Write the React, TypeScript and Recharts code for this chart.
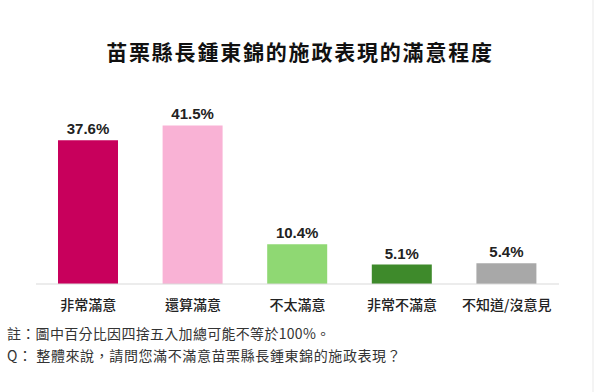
import { BarChart, Bar, XAxis, YAxis, Cell, LabelList } from 'recharts';

const categories = ['非常滿意', '還算滿意', '不太滿意', '非常不滿意', '不知道/沒意見'];
const values = [37.6, 41.5, 10.4, 5.1, 5.4];
const barColors = ['#C8005C', '#F9B2D5', '#8FD873', '#3E8A2B', '#A8A8A8'];

const data = categories.map((name, i) => ({ name, value: values[i] }));

const CJK = '"Noto Sans CJK TC", "Noto Sans", sans-serif';

export default function App() {
  return (
    <div style={{ position: 'absolute', left: 0, top: 0, width: 600, height: 392, background: '#fff', fontFamily: CJK }}>
      <div
        style={{
          position: 'absolute',
          top: 36,
          left: 0,
          width: 600,
          textAlign: 'center',
          fontSize: 21,
          lineHeight: '30px',
          fontWeight: 700,
          color: '#111',
          letterSpacing: 1.8,
        }}
      >
        苗栗縣長鍾東錦的施政表現的滿意程度
      </div>
      {/* faint edge on the right, as in the source image */}
      <div style={{ position: 'absolute', left: 592, top: 0, width: 2, height: 392, background: '#f4f4f4' }} />
      <BarChart
        width={600}
        height={392}
        data={data}
        margin={{ top: 93, right: 41, left: 36, bottom: 78 }}
      >
        <XAxis
          dataKey="name"
          tickLine={false}
          axisLine={{ stroke: '#d9d9d9' }}
          tick={{ fontSize: 14, fill: '#222', fontFamily: CJK, fontWeight: 500 }}
          tickMargin={10}
          interval={0}
          height={30}
        />
        <YAxis hide domain={[0, 50]} />
        <Bar dataKey="value" barSize={60} isAnimationActive={false}>
          {data.map((d, i) => (
            <Cell key={d.name} fill={barColors[i]} />
          ))}
          <LabelList
            dataKey="value"
            position="top"
            offset={6}
            formatter={(v: any) => `${Number(v).toFixed(1)}%`}
            style={{ fontSize: 15, fontWeight: 700, fill: '#222', fontFamily: '"Liberation Sans", Arial, sans-serif' }}
          />
        </Bar>
      </BarChart>
      <div style={{ position: 'absolute', left: 7, top: 323, fontSize: 14, color: '#333', lineHeight: '20px', letterSpacing: 0.3 }}>
        註：圖中百分比因四捨五入加總可能不等於100%。
      </div>
      <div style={{ position: 'absolute', left: 7, top: 345, fontSize: 14, color: '#333', lineHeight: '20px', letterSpacing: 0.6 }}>
        Q： 整體來說，請問您滿不滿意苗栗縣長鍾東錦的施政表現？
      </div>
    </div>
  );
}
